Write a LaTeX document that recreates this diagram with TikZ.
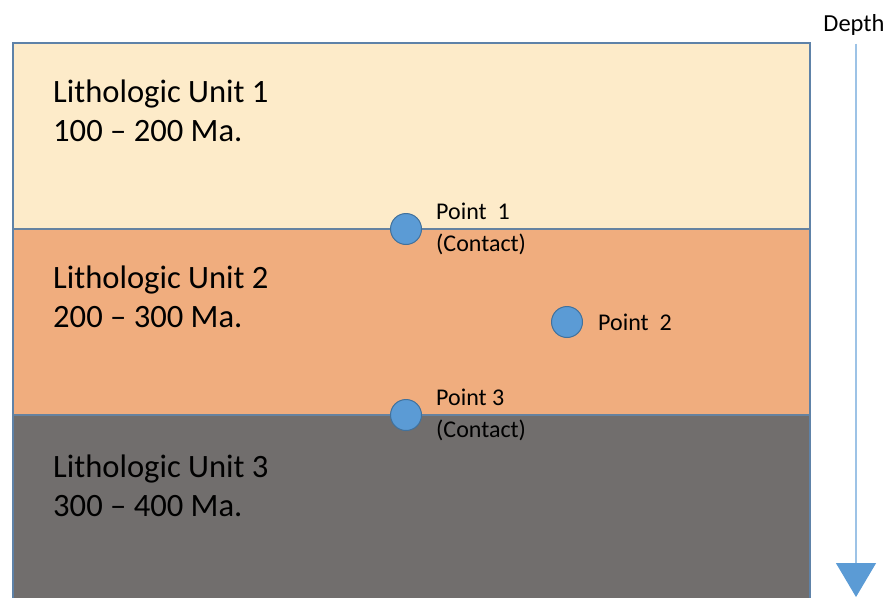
\documentclass[tikz,border=0pt]{standalone}
\usepackage{fontspec}
\setmainfont{Carlito}
\usetikzlibrary{positioning,arrows.meta}
\definecolor{unitone}{HTML}{FDEBC9}
\definecolor{unittwo}{HTML}{F0AD7E}
\definecolor{unitthree}{HTML}{716E6D}
\definecolor{edgeblue}{HTML}{5E82A8}
\definecolor{dotblue}{HTML}{5B9BD5}
\definecolor{dotedge}{HTML}{41719C}
\definecolor{depthline}{HTML}{9DC3E6}
\tikzset{
  unitlabel/.style={anchor=north west,align=left,inner sep=0pt,
    font=\fontsize{32.6}{39}\selectfont},
  dot/.style={circle,fill=dotblue,draw=dotedge,line width=1pt,
    minimum size=31pt,inner sep=0pt},
  ptlabel/.style={anchor=west,align=left,inner sep=0pt,
    font=\fontsize{24}{32}\selectfont}
}
\begin{document}
\begin{tikzpicture}[x=1pt,y=-1pt]
  \useasboundingbox (0,0) rectangle (890,597);
  % layers
  \fill[unitone] (13,43) rectangle (810,229);
  \fill[unittwo] (13,229) rectangle (810,415);
  \fill[unitthree] (13,415) rectangle (810,620);
  \draw[edgeblue,line width=1.2pt] (13,620) -- (13,43) -- (810,43) -- (810,620);
  \draw[edgeblue!80!gray,line width=1.2pt] (13,229) -- (810,229);
  \draw[edgeblue!80!gray,line width=1.2pt] (13,415) -- (810,415);
  \draw
    (53,80) node[unitlabel] (u1){Lithologic Unit 1\\100 -- 200 Ma.}
    (53,266) node[unitlabel] (u2){Lithologic Unit 2\\200 -- 300 Ma.}
    (53,455) node[unitlabel] (u3){Lithologic Unit 3\\300 -- 400 Ma.};
  % points
  \draw
    (406,229) node[dot] (p1){}
    (567,322) node[dot] (p2){}
    (406,415) node[dot] (p3){};
  \node[ptlabel,right=14pt of p1] (l1){Point~~1\\(Contact)};
  \node[ptlabel,right=15pt of p2] (l2){Point~~2};
  \node[ptlabel,right=14pt of p3] (l3){Point 3\\(Contact)};
  % depth axis
  \node[font=\fontsize{24.5}{28}\selectfont,inner sep=0pt] (depth) at (854,25){Depth};
  \coordinate (bottom) at (856,597);
  \draw[depthline,line width=1.3pt,
    -{Triangle[width=40pt,length=34pt,fill=dotblue,color=dotblue]}]
    (depth.south -| bottom) ++(0,8) -- (bottom);
\end{tikzpicture}
\end{document}
